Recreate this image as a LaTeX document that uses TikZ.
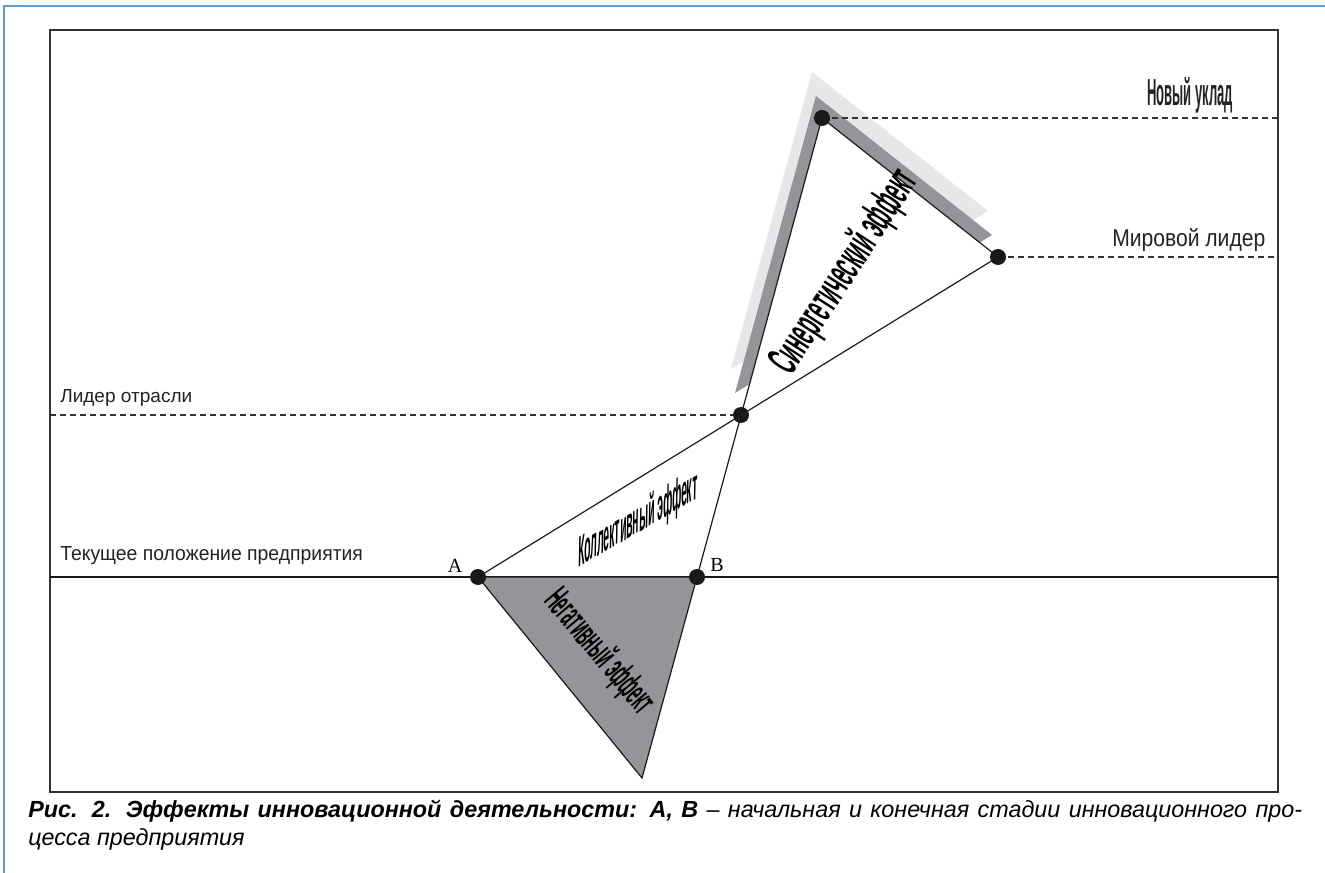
\documentclass[tikz,border=0pt]{standalone}
\usepackage{graphicx}
\usepackage{fontspec}
\setmainfont{Liberation Sans}
\newfontfamily\serifAB{Liberation Serif}
\usetikzlibrary{calc}
\definecolor{frameblue}{RGB}{91,157,213}
\definecolor{effectgray}{RGB}{147,149,152}
\definecolor{shadelight}{RGB}{230,231,232}
\definecolor{labelgray}{RGB}{35,35,35}
\newcommand{\fitbox}[3]{\resizebox{#1pt}{#2pt}{#3}}
\begin{document}
\begin{tikzpicture}[x=0.75pt, y=-0.75pt,
    dot/.style={circle, fill=black!90, inner sep=0pt, minimum size=12pt},
    edge/.style={line width=0.9pt, draw=black!90},
    level/.style={line width=0.8pt, dash pattern=on 4.5pt off 3pt, black!80},
    label/.style={inner sep=0pt, text=labelgray},
    effect/.style={inner sep=0pt, text=black, font=\bfseries}
]
\useasboundingbox (0,0) rectangle (1325,873);
% Frames
\draw[frameblue, line width=1.5pt] (4,873) -- (4,6) -- (1325,6);
\draw[black!80, line width=0.9pt] (50,30) rectangle (1278,792);

% Points
\coordinate (ptA) at (478,577);
\coordinate (ptB) at (697,577);
\coordinate (ptC) at (741,415);
\coordinate (ptTop) at (822,118);
\coordinate (ptWorld) at (998,257);
\coordinate (ptNeg) at (642,778);
\coordinate (curL) at (50,577);
\coordinate (curR) at (1278,577);
\coordinate (leadL) at (50,415);
\coordinate (newR) at (1278,118);
\coordinate (worldR) at (1278,257);

% Current position line
\draw[line width=0.8pt, black!90] (curL) -- (curR);

% Negative effect
\filldraw[edge, fill=effectgray] (ptA) -- (ptB) -- (ptNeg) -- cycle;

% Shadows of the synergy triangle
\fill[shadelight] ($(ptC)+(-10,-46)$) -- ($(ptTop)+(-10,-46)$) -- ($(ptWorld)+(-10,-46)$) -- cycle;
\fill[effectgray] ($(ptC)+(-6,-22)$) -- ($(ptTop)+(-6,-22)$) -- ($(ptWorld)+(-6,-22)$) -- cycle;
\fill[white] (ptC) -- (ptTop) -- (ptWorld) -- cycle;

% Effect lines
\draw[edge] (ptA) -- (ptWorld);
\draw[edge] (ptB) -- (ptTop);
\draw[edge] (ptTop) -- (ptWorld);

% Levels
\draw[level] (leadL) -- (ptC);
\draw[level] (ptTop) -- (newR);
\draw[level] (ptWorld) -- (worldR);

% Dots
\foreach \p in {ptA,ptB,ptC,ptTop,ptWorld}
  \node[dot] at (\p) {};

% Labels
\node[label, anchor=base west] (lblNew) at (1147,106) {\fitbox{64.5}{21}{\bfseries Новый уклад}};
\node[label, anchor=base west] (lblWorld) at (1112,247) {\fitbox{114.75}{13.5}{Мировой лидер}};
\node[label, anchor=base west] (lblLeader) at (60,403) {\fitbox{99}{9.75}{Лидер отрасли}};
\node[label, anchor=base west] (lblCurrent) at (60,561) {\fitbox{227}{10.5}{Текущее положение предприятия}};
\node[font=\serifAB\fontsize{15}{15}\selectfont, inner sep=0pt] (lblA) at (455,566) {A};
\node[font=\serifAB\fontsize{15}{15}\selectfont, inner sep=0pt] (lblB) at (717,565) {B};

% Effects
\node[effect, rotate=57] (lblSyn) at (845,272) {\fitbox{175}{25}{Синергетический эффект}};
\node[effect, rotate=30, xslant=0.6] (lblColl) at (638,521) {\fitbox{103}{21}{Коллективный эффект}};
\node[effect, rotate=-50] (lblNegEff) at (599,652) {\fitbox{112.5}{21}{Негативный эффект}};

% Caption
\node[anchor=north west, inner sep=0pt, text width=955.5pt, align=justify,
      font=\fontsize{17.5}{21}\selectfont] (caption) at (28,800)
  {\noindent\textbf{\textit{Рис. 2. Эффекты инновационной деятельности: А, В}} \textit{– начальная и конечная стадии инновационного про-\linebreak цесса предприятия}};
\end{tikzpicture}
\end{document}
